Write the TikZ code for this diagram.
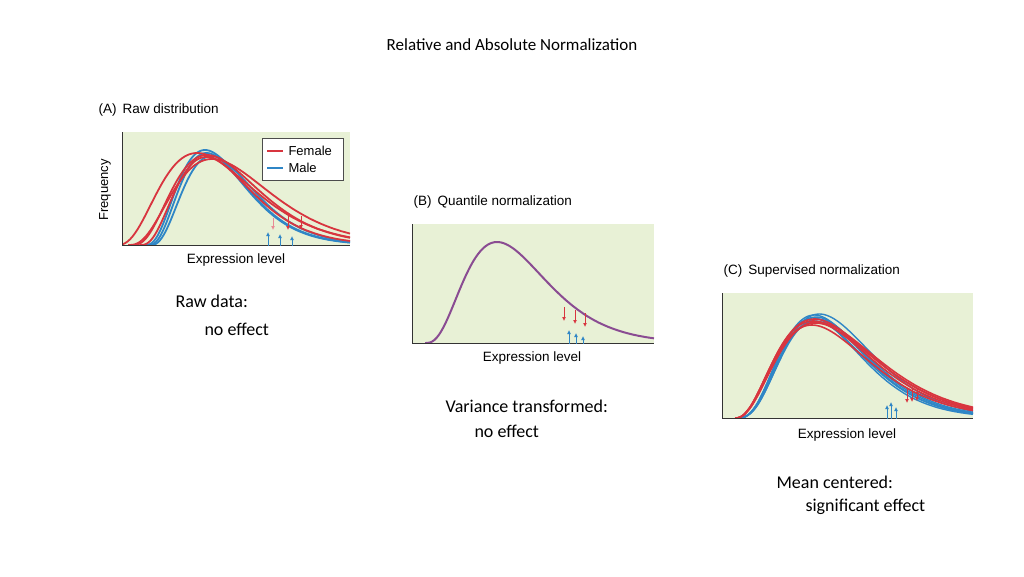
\documentclass[tikz,border=0pt]{standalone}
\usepackage{fontspec}
\usetikzlibrary{arrows.meta}
\setmainfont{Carlito}
\newfontfamily\arial{Liberation Sans}
\definecolor{bgg}{HTML}{E8F1D6}
\definecolor{rd}{HTML}{D8353F}
\definecolor{bl}{HTML}{2F86C6}
\definecolor{pu}{HTML}{8A4C92}
\definecolor{pk}{HTML}{E98A95}
\newcommand\gcurve[7]{\draw[#7] plot[domain=#1:#6,samples=100,smooth] (\x,{#5-#4*pow(max(\x-#1,0.01)/(#2*#3),#2)*exp(#2-max(\x-#1,0.01)/#3)});}
\begin{document}
\begin{tikzpicture}[x=1pt,y=-1pt,
  body/.style={font=\fontsize{18}{20}\selectfont,anchor=west},
  plab/.style={font=\arial\fontsize{13.5}{15}\selectfont,anchor=west},
  rc/.style={rd,line width=1.8pt},
  bc/.style={bl,line width=1.8pt},
  ra/.style={rd,line width=0.9pt,-{Latex[length=4pt,width=4pt]}},
  ba/.style={bl,line width=0.9pt,-{Latex[length=4pt,width=4pt]}}]
\useasboundingbox (0,0) rectangle (1024,576);
\fill[white] (0,0) rectangle (1024,576);
\node[font=\fontsize{17}{20}\selectfont] (title) at (512,45) {Relative and Absolute Normalization};
% Panel A
\node[plab] (la) at (95,110) {(A)\, Raw distribution};
\fill[bgg] (122,132) rectangle (350,245);
\begin{scope}
\clip (122,132) rectangle (350,245);
\gcurve{145}{3}{20}{95}{245}{350}{bc}
\gcurve{148}{3}{19.5}{92}{245}{350}{bc}
\gcurve{150}{3}{20.5}{89}{245}{350}{bc}
\gcurve{116}{3}{27}{92}{245}{350}{rc}
\gcurve{132}{3}{25}{90}{245}{350}{rc}
\gcurve{140}{3}{22}{88}{245}{350}{rc}
\gcurve{128}{3}{28}{86}{245}{350}{rc}
\end{scope}
\draw[line width=0.9pt,black!80] (122,132) -- (122,245) -- (350,245);
\node[draw=black!70,fill=white,minimum width=81pt,minimum height=42pt,anchor=north west,inner sep=0pt] (leg) at (262,138) {};
\draw[rd,line width=2.2pt] (267,151) -- (283,151);
\draw[bl,line width=2.2pt] (267,168) -- (283,168);
\node[plab,font=\arial\fontsize{13}{15}\selectfont] (lf) at (285,151) {Female};
\node[plab,font=\arial\fontsize{13}{15}\selectfont] (lm) at (285,168) {Male};
\draw[pk,line width=0.9pt,-{Latex[length=4pt,width=4pt]}] (273,218) -- (273,230);
\draw[ra] (288,216) -- (288,230);
\draw[ra] (301,216) -- (301,229);
\draw[ba] (268,246) -- (268,232);
\draw[ba] (280,246) -- (280,234);
\draw[ba] (292,246) -- (292,236);
\node[font=\arial\fontsize{13}{15}\selectfont,rotate=90] (fr) at (105,190) {Frequency};
\node[font=\arial\fontsize{13.5}{15}\selectfont] (xa) at (236,260) {Expression level};
\node[body] (t1) at (172,301) {Raw data:};
\node[body] (t2) at (201,329) {no effect};
% Panel B
\node[plab] (lb) at (410,202) {(B)\, Quantile normalization};
\fill[bgg] (412,224) rectangle (654,343);
\begin{scope}
\clip (412,224) rectangle (654,343);
\gcurve{425}{3}{24}{101}{343}{654}{pu,line width=2pt}
\end{scope}
\draw[line width=0.9pt,black!80] (412,224) -- (412,343) -- (654,343);
\draw[ra] (564,307) -- (564,321);
\draw[ra] (575,310) -- (575,324);
\draw[ra] (585,313) -- (585,327);
\draw[ba] (569,344) -- (569,330);
\draw[ba] (576,344) -- (576,333);
\draw[ba] (583,344) -- (583,336);
\node[font=\arial\fontsize{13.5}{15}\selectfont] (xb) at (532,358) {Expression level};
\node[body] (t3) at (442,406) {Variance transformed:};
\node[body] (t4) at (471,431) {no effect};
% Panel C
\node[plab] (lc) at (720,271) {(C)\, Supervised normalization};
\fill[bgg] (722,293) rectangle (973,418);
\begin{scope}
\clip (722,293) rectangle (973,418);
\foreach \t/\h in {23/103,23.5/101,24/99,22.5/100,24.5/104,23.2/97}{
  \gcurve{736}{3.4}{\t}{\h}{418}{973}{bc,line width=1.4pt}}
\foreach \t/\h in {30/97,31/95,30.5/99,29.5/93,31.5/96}{
  \gcurve{735}{2.6}{\t}{\h}{418}{973}{rc,line width=1.6pt}}
\end{scope}
\draw[line width=0.9pt,black!80] (722,293) -- (722,418) -- (973,418);
\draw[ra] (907,389) -- (907,403);
\draw[ra] (912,388) -- (912,402);
\draw[ra] (917,389) -- (917,401);
\draw[ba] (887,419) -- (887,405);
\draw[ba] (891,419) -- (891,402);
\draw[ba] (896,419) -- (896,407);
\node[font=\arial\fontsize{13.5}{15}\selectfont] (xc) at (847,435) {Expression level};
\node[body] (t5) at (773,482) {Mean centered:};
\node[body] (t6) at (802,507) {significant effect};
\end{tikzpicture}
\end{document}
